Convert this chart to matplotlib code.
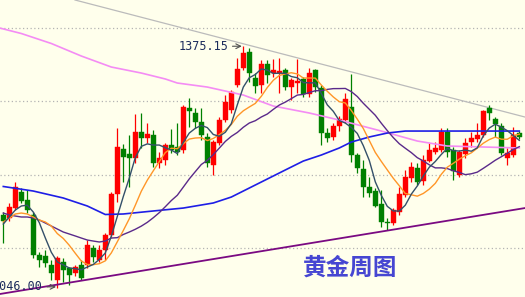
import numpy as np
import pandas as pd
import matplotlib
matplotlib.use('Agg')
import matplotlib.pyplot as plt

#-- weekly gold candles (open, high, low, close)
opens = [1145, 1141, 1154, 1176, 1165, 1145, 1090, 1089, 1077, 1056,
         1081, 1073, 1066, 1077, 1077, 1100, 1084, 1097, 1118, 1174,
         1235, 1228, 1223, 1258, 1250, 1254, 1216, 1220, 1240, 1238,
         1234, 1291, 1284, 1272, 1251, 1213, 1243, 1275, 1288, 1322,
         1345, 1367, 1332, 1322, 1351, 1339, 1339, 1343, 1320, 1325,
         1330, 1310, 1343, 1318, 1257, 1251, 1266, 1275, 1292, 1227,
         1208, 1183, 1178, 1160, 1135, 1134, 1149, 1172, 1195, 1209,
         1191, 1219, 1231, 1234, 1258, 1234, 1199, 1228, 1244, 1249,
         1254, 1291, 1276, 1266, 1223, 1227, 1257]
highs = [1149, 1161, 1190, 1182, 1179, 1149, 1094, 1097, 1084, 1089,
         1086, 1074, 1077, 1084, 1111, 1104, 1104, 1120, 1176, 1264,
         1242, 1254, 1283, 1284, 1270, 1261, 1231, 1243, 1262, 1270,
         1295, 1305, 1291, 1291, 1257, 1247, 1279, 1309, 1315, 1359,
         1375.15, 1373, 1339, 1356, 1356, 1358, 1359, 1345, 1332, 1358,
         1333, 1345, 1344, 1322, 1264, 1270, 1280, 1311, 1337, 1230,
         1220, 1197, 1182, 1179, 1141, 1154, 1183, 1206, 1217, 1216,
         1227, 1243, 1244, 1264, 1264, 1238, 1234, 1250, 1258, 1270,
         1288, 1295, 1279, 1270, 1236, 1265, 1260]
lows = [1107, 1137, 1152, 1161, 1148, 1086, 1074, 1074, 1056, 1046,
        1054, 1050, 1062, 1056, 1073, 1081, 1081, 1084, 1115, 1163,
        1190, 1183, 1216, 1236, 1243, 1210, 1209, 1213, 1230, 1227,
        1230, 1265, 1264, 1247, 1210, 1200, 1240, 1272, 1284, 1320,
        1343, 1326, 1311, 1311, 1325, 1333, 1311, 1315, 1302, 1311,
        1306, 1306, 1313, 1240, 1245, 1247, 1260, 1270, 1217, 1202,
        1169, 1169, 1156, 1128, 1124, 1131, 1145, 1169, 1190, 1186,
        1186, 1217, 1228, 1231, 1224, 1193, 1197, 1223, 1238, 1244,
        1251, 1275, 1251, 1227, 1213, 1224, 1249]
closes = [1137, 1156, 1183, 1164, 1152, 1090, 1084, 1079, 1066, 1086,
          1070, 1063, 1074, 1059, 1104, 1088, 1097, 1118, 1174, 1238,
          1224, 1223, 1258, 1250, 1255, 1216, 1223, 1240, 1234, 1231,
          1292, 1287, 1272, 1254, 1216, 1245, 1275, 1299, 1313, 1344,
          1366, 1339, 1321, 1351, 1336, 1343, 1341, 1320, 1329, 1328,
          1310, 1339, 1320, 1257, 1250, 1266, 1276, 1303, 1227, 1209,
          1183, 1175, 1157, 1135, 1134, 1152, 1174, 1197, 1210, 1190,
          1220, 1234, 1236, 1258, 1231, 1205, 1231, 1243, 1250, 1254,
          1287, 1284, 1269, 1230, 1230, 1254, 1251]

ma5_head = [1132.7, 1142.3, 1151.8, 1157.3]
ma10_head = [1135.5, 1140.9, 1146.4, 1147.7, 1146.4, 1142.3, 1138.2,
             1135.5, 1130.0]
ma20_head = [1147.7, 1145.0, 1143.6, 1142.3, 1142.3, 1140.9, 1138.2,
             1134.1, 1130.0, 1125.9, 1121.8, 1119.1, 1116.4, 1113.6,
             1110.9, 1109.5, 1108.2, 1109.5, 1113.6]

#-- slow averages, read at a few weeks
blue_idx = [0, 5, 10, 14, 17, 20, 25, 30, 35, 38, 41, 44, 47, 50, 53,
            56, 58, 61, 64, 67, 86]
blue_val = [1183.9, 1177.7, 1168.2, 1157.3, 1145.7, 1146.4, 1150.5,
            1154.5, 1161.4, 1169.5, 1181.8, 1194.1, 1206.4, 1218.6,
            1226.8, 1236.4, 1244.5, 1251.4, 1256.8, 1259.5, 1259.5]
pink_idx = [-0.6, 3, 8, 13, 18, 23, 27, 29, 34, 40, 45, 51, 56, 63, 69,
            74, 86]
pink_val = [1400.0, 1392.5, 1378.9, 1361.8, 1346.8, 1338.6, 1330.5,
            1325.0, 1319.5, 1308.6, 1293.6, 1284.1, 1274.5, 1259.5,
            1245.9, 1239.1, 1236.4]

#-- trend lines (two anchor points each)
upper_x, upper_y = [11.95, 86.95], [1438.2, 1278.6]
lower_x, lower_y = [-0.55, 86.95], [1037.3, 1154.5]

grid_levels = [1100, 1200, 1300, 1400]
title = '黄金周图'

#------------------------------------------------------------------------------
o = np.array(opens, float)
h = np.array(highs, float)
l = np.array(lows, float)
c = np.array(closes, float)
idx = np.arange(len(c))

cs = pd.Series(c)
ma5 = cs.rolling(5).mean().values
ma5[:4] = ma5_head
ma10 = cs.rolling(10).mean().values
ma10[:9] = ma10_head
ma20 = cs.rolling(20).mean().values
ma20[:19] = ma20_head

bg = '#FFFFEC'
fig = plt.figure(figsize=(5.25, 2.97), dpi=100, facecolor=bg)
ax = fig.add_axes([0, 0, 1, 1])
ax.set_facecolor(bg)
ax.set_xlim(-0.55, 86.95)
ax.set_ylim(1033.2, 1438.2)
ax.axis('off')

for lev in grid_levels:
    ax.axhline(lev, color='#B4B4B4', lw=0.9, ls=(0, (1, 2)), zorder=1)

up = c >= o
cols = np.where(up, '#FF0000', '#008000')
ax.vlines(idx, l, h, colors=cols, lw=0.9, zorder=2)
bottom = np.minimum(o, c)
height = np.maximum(np.abs(c - o), 0.8)
ax.bar(idx, height, bottom=bottom, width=0.78, color=cols,
       edgecolor=cols, lw=0.3, zorder=2)

#-- trend lines
ax.plot(upper_x, upper_y, color='#BBBBBB', lw=0.9, zorder=1.5)
ax.plot(lower_x, lower_y, color='#7A0A82', lw=1.3, zorder=3)

#-- moving averages
ax.plot(pink_idx, pink_val, color='#F48CF4', lw=1.2, zorder=3)
ax.plot(blue_idx, blue_val, color='#1E1EE6', lw=1.2, zorder=3)
ax.plot(idx, ma20, color='#5A2A8A', lw=1.0, zorder=3)
ax.plot(idx, ma10, color='#FF9628', lw=1.0, zorder=3)
ax.plot(idx, ma5, color='#34506A', lw=1.0, zorder=3)

#-- high / low labels
ihi = int(np.argmax(h))
ilo = int(np.argmin(l))
ax.annotate('%.2f' % h[ihi], xy=(ihi - 0.25, h[ihi]), xytext=(37.5, h[ihi]),
            ha='right', va='center', fontsize=8.5, family='DejaVu Sans Mono',
            color='#1C2C5C',
            arrowprops=dict(arrowstyle='->', color='#505050', lw=0.8,
                            shrinkA=1, shrinkB=0), zorder=4)
ax.annotate('%.2f' % l[ilo], xy=(ilo - 0.2, l[ilo] + 1), xytext=(6.6, l[ilo] + 1),
            ha='right', va='center', fontsize=8.5, family='DejaVu Sans Mono',
            color='#1C2C5C',
            arrowprops=dict(arrowstyle='->', color='#505050', lw=0.8,
                            shrinkA=1, shrinkB=0), zorder=4)

#-- title string
ax.text(57.8, 1072.7, title, ha='center', va='center', fontsize=17,
        fontweight='bold', color='#4646D2',
        family=['Noto Sans CJK SC', 'DejaVu Sans'], zorder=5)

plt.savefig('out.png', dpi=100, facecolor=bg)
